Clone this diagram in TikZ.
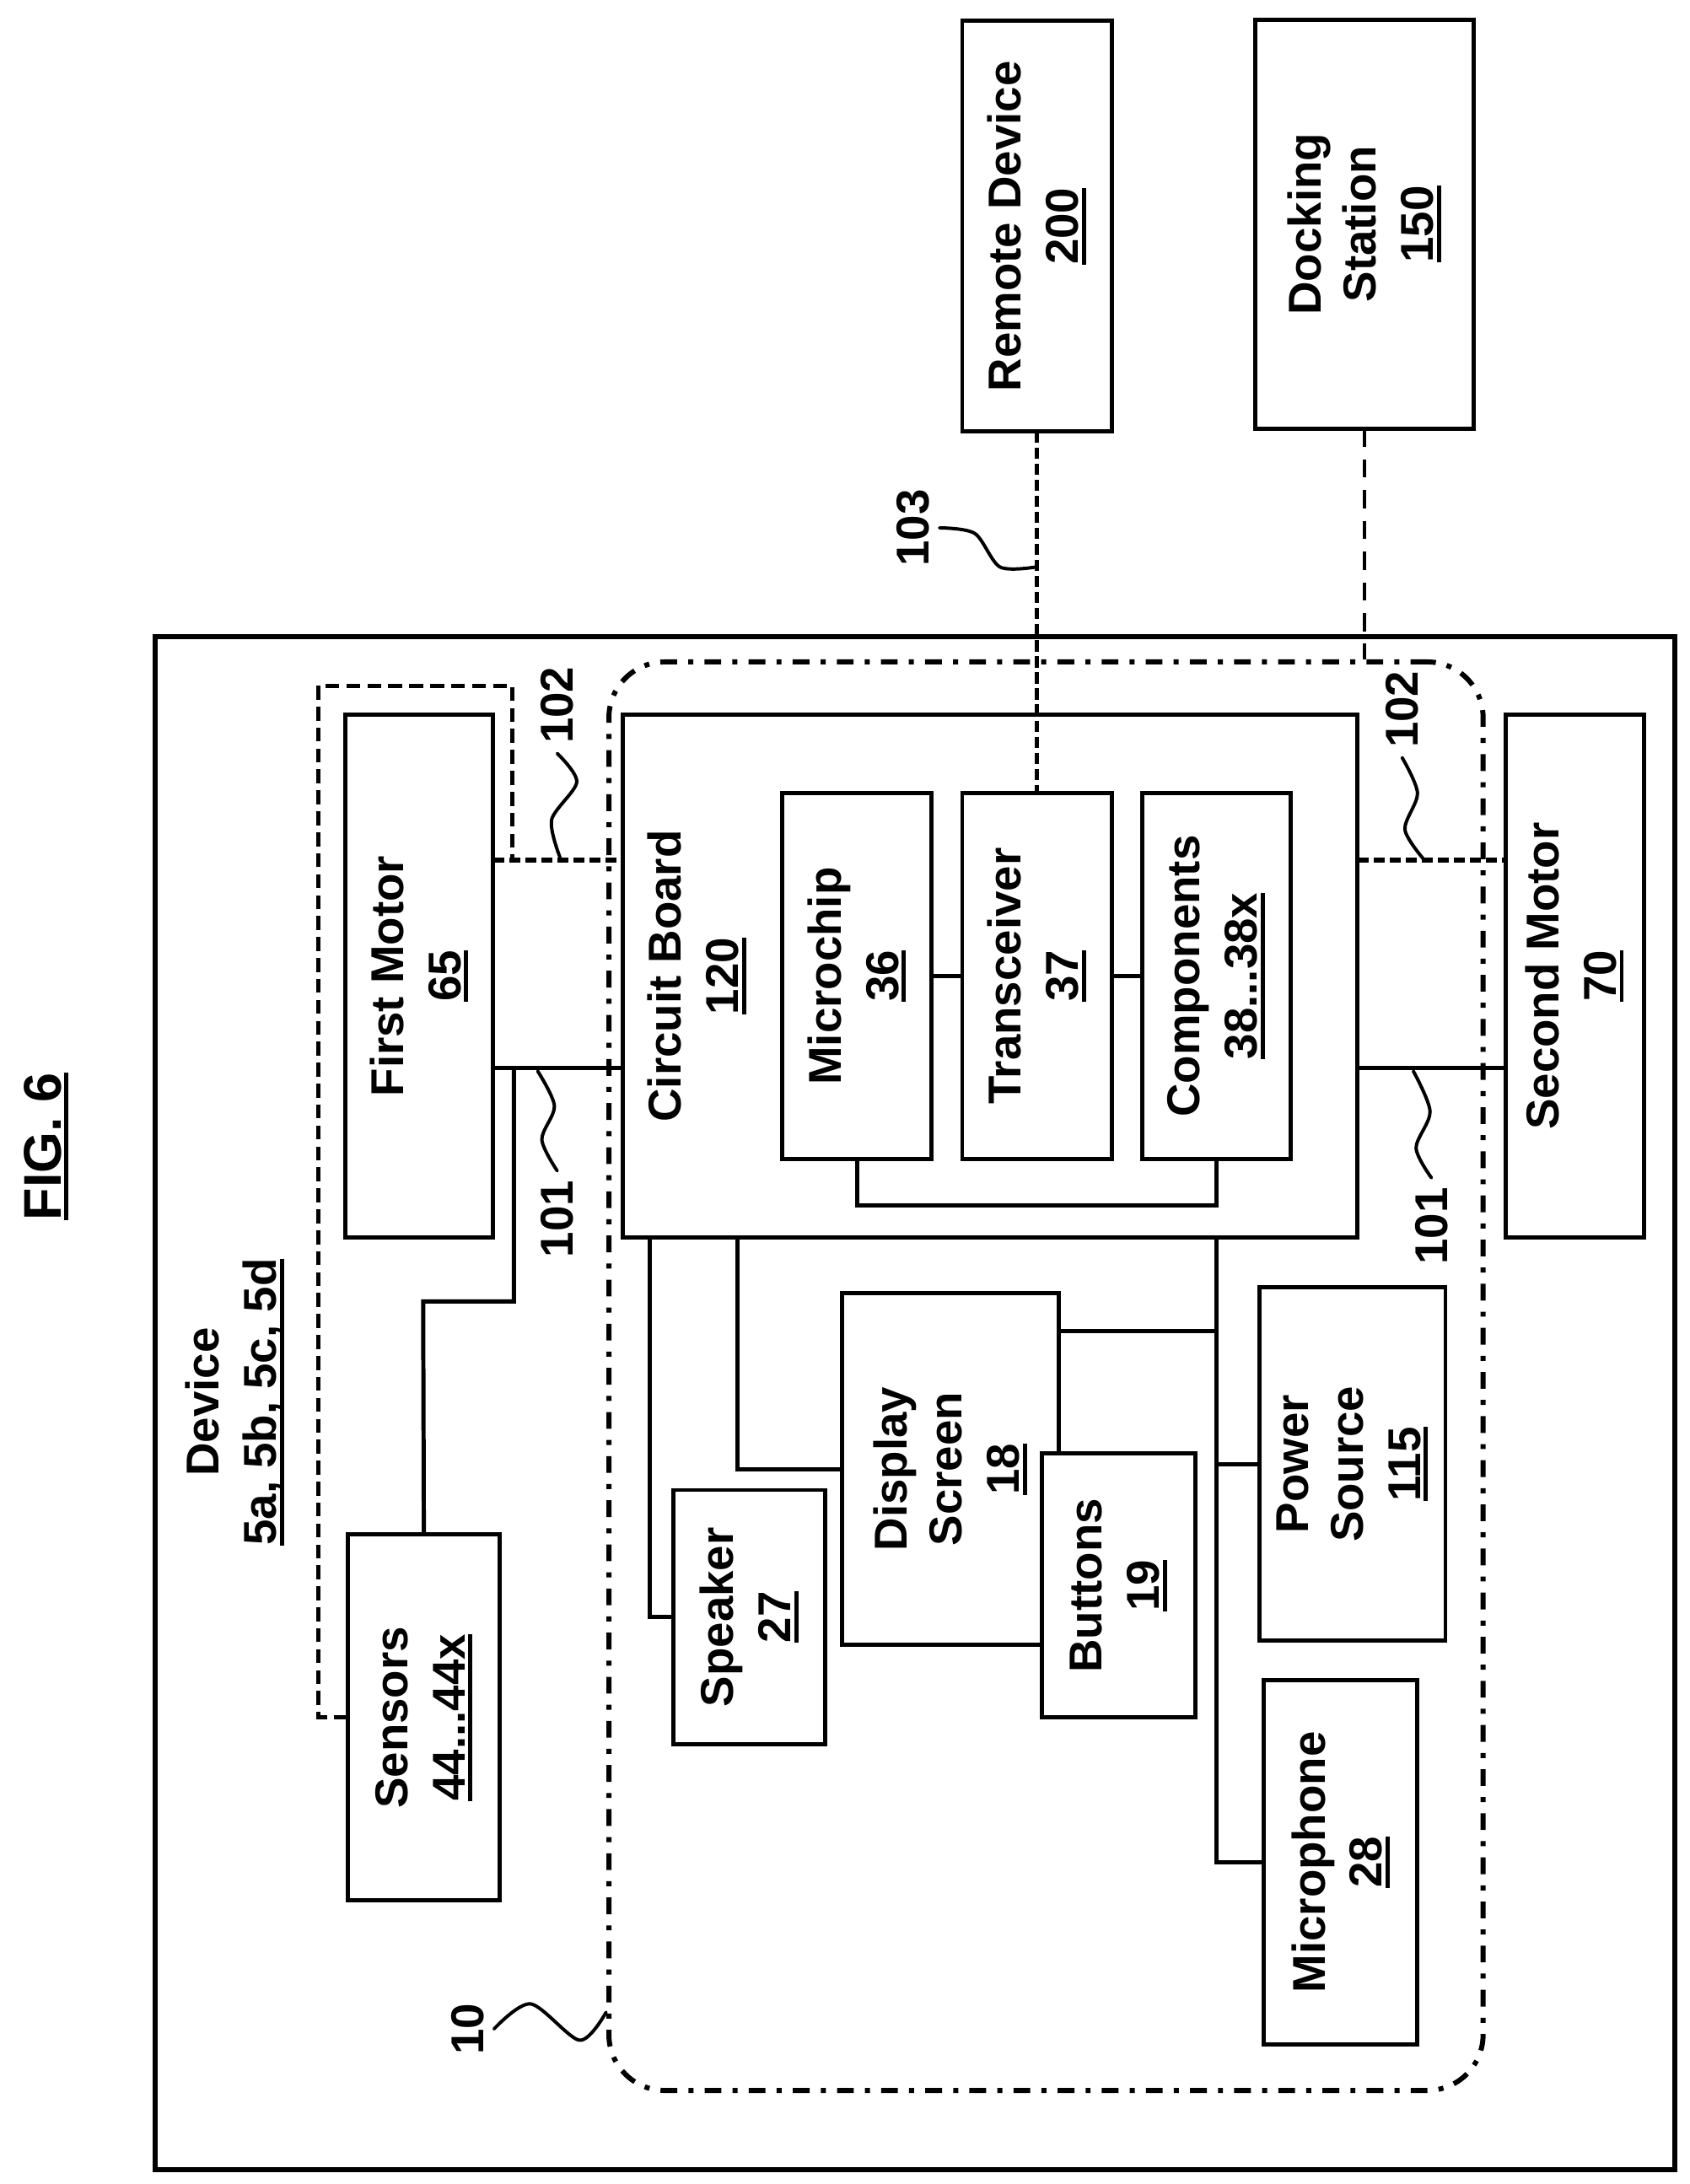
\documentclass[tikz,border=0pt]{standalone}
\usepackage{fontspec}
\setmainfont{Liberation Sans}
\newcommand{\refnum}[1]{\setbox0=\hbox{#1}\leavevmode\rlap{\rule[-5.5pt]{\wd0}{3pt}}\box0}
\tikzset{
    txt/.style={font=\fontsize{33}{39}\selectfont\bfseries, inner sep=0pt, outer sep=0pt},
    block/.style={txt, draw, line width=3pt, fill=white, rotate=90, align=center},
    caption/.style={txt, rotate=90, align=center},
    reflabel/.style={txt, rotate=90, outer sep=7pt},
    wire/.style={line width=3pt},
    dashwire/.style={line width=3.4pt, dash pattern=on 8pt off 3.5pt},
    lead/.style={line width=2.4pt, line cap=round},
}
\begin{document}
\begin{tikzpicture}[x=1pt, y=-1pt]

    \useasboundingbox (0,0) rectangle (1210,1564);

    % Title
    \node[caption, font=\fontsize{38}{44}\selectfont\bfseries] (title) at (33,821) {\refnum{FIG. 6}};

    % Device outline and module outline
    \node[draw, line width=3.6pt, inner sep=0pt, minimum width=1088pt, minimum height=1098pt] (device) at (655,1005) {};
    \node[draw, line width=3.6pt, rounded corners=40pt, dash pattern=on 12pt off 8pt on 3.6pt off 8pt,
          inner sep=0pt, minimum width=626pt, minimum height=1023pt] (module) at (749,985.5) {};
    \node[caption] (devicelabel) at (168,1004) {Device\\[2pt]\refnum{5a, 5b, 5c, 5d}};

    % Outside the device
    \node[block, minimum width=294pt, minimum height=107pt] (remote) at (742.5,162) {Remote Device\\[2pt]\refnum{200}};
    \node[block, minimum width=293pt, minimum height=156pt] (dock) at (977,160.5) {Docking\\Station\\[2pt]\refnum{150}};

    % Motors
    \node[block, minimum width=374pt, minimum height=106pt] (motorone) at (300,699) {First Motor\\[2pt]\refnum{65}};
    \node[block, minimum width=374pt, minimum height=99pt] (motortwo) at (1127.5,699) {Second Motor\\[2pt]\refnum{70}};

    % Circuit board and what sits on it
    \node[block, minimum width=374pt, minimum height=526pt] (board) at (709,699) {};
    \node[caption] (boardlabel) at (499,699) {Circuit Board\\[2pt]\refnum{120}};
    \node[block, minimum width=262pt, minimum height=107pt] (chip) at (613.5,699) {Microchip\\[2pt]\refnum{36}};
    \node[block, minimum width=262pt, minimum height=107pt] (radio) at (742.5,699) {Transceiver\\[2pt]\refnum{37}};
    \node[block, minimum width=262pt, minimum height=106pt] (parts) at (871,699) {Components\\[2pt]\refnum{38...38x}};

    % Parts below the board
    \node[block, minimum width=252pt, minimum height=155pt] (screen) at (680.5,1052) {Display\\Screen\\[2pt]\refnum{18}};
    \node[block, minimum width=189pt, minimum height=110pt] (buttons) at (801,1135.5) {Buttons\\[2pt]\refnum{19}};
    \node[block, minimum width=253pt, minimum height=133pt] (power) at (968.5,1048.5) {Power\\Source\\[2pt]\refnum{115}};
    \node[block, minimum width=182pt, minimum height=109pt] (speaker) at (536.5,1158) {Speaker\\[2pt]\refnum{27}};
    \node[block, minimum width=261pt, minimum height=110pt] (mic) at (960,1333.5) {Microphone\\[2pt]\refnum{28}};
    \node[block, minimum width=262pt, minimum height=109pt] (sensors) at (303.5,1230) {Sensors\\[2pt]\refnum{44...44x}};

    % Links between motors and board
    \draw[dashwire] (motorone.south |- 0,616) -- (board.north |- 0,616);
    \draw[wire] (motorone.south |- 0,765) -- (board.north |- 0,765);
    \draw[dashwire] (board.south |- 0,616) -- (motortwo.north |- 0,616);
    \draw[wire] (board.south |- 0,765) -- (motortwo.north |- 0,765);

    % Sensors
    \draw[wire] (sensors.east) -- (303,932) -- (368,932) -- (368,765);
    \draw[line width=3pt, dash pattern=on 10pt off 5pt] (sensors.north) -- (228,1230) -- (228,491) -- (367,491) -- (367,616);

    % Wireless links
    \draw[dashwire] (remote.west) -- (radio.east);
    \draw[line width=2.6pt, dash pattern=on 13pt off 9pt] (dock.west) -- (dock.west |- module.north);

    % Chips on the board
    \draw[wire] (chip.south) -- (radio.north);
    \draw[wire] (radio.south) -- (parts.north);
    \draw[wire] (chip.west -| 614,0) -- (614,863) -- (871,863) -- (parts.west);

    % Board to the lower parts
    \draw[wire] (board.west -| 871,0) -- (871,1333.5) -- (mic.north);
    \draw[wire] (screen.south |- 0,953) -- (871,953);
    \draw[wire] (871,1048.5) -- (power.north);
    \draw[wire] (board.west -| 528,0) -- (528,1052) -- (screen.north);
    \draw[wire] (board.west -| 465,0) -- (465,1158) -- (speaker.north);

    % Reference numerals
    \node[reflabel] (numa) at (399,505) {102};
    \node[reflabel] (numb) at (399,873) {101};
    \node[reflabel] (numc) at (654,378) {103};
    \node[reflabel] (numd) at (1004,508) {102};
    \node[reflabel] (nume) at (1025,878) {101};
    \node[reflabel] (numf) at (335,1453) {10};

    % Lead lines
    \draw[lead] plot[smooth] coordinates {(numa.west) (413,560) (395,587) (401,614)};
    \draw[lead] plot[smooth] coordinates {(numb.east) (388,816) (397,792) (385,767)};
    \draw[lead] plot[smooth] coordinates {(numc.south) (698,382) (716,406) (742,406)};
    \draw[lead] plot[smooth] coordinates {(numd.west) (1015,568) (1006,594) (1020,616)};
    \draw[lead] plot[smooth] coordinates {(nume.east) (1014,822) (1024,796) (1012,767)};
    \draw[lead] plot[smooth] coordinates {(numf.south) (380,1435) (415,1461) (434,1441)};

\end{tikzpicture}
\end{document}
